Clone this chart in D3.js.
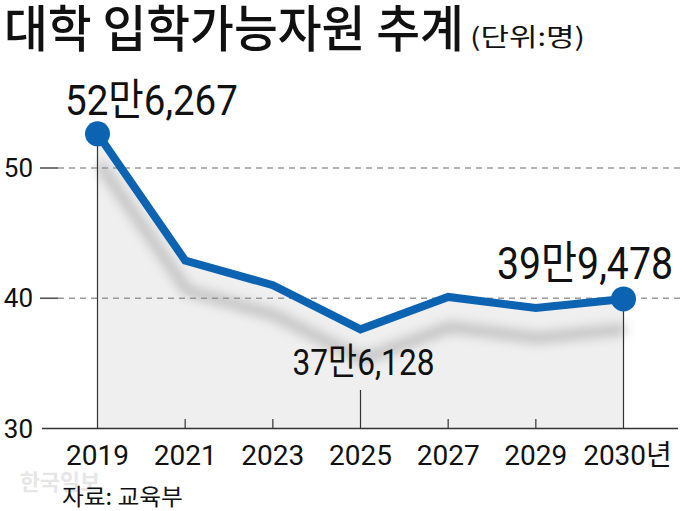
<!DOCTYPE html>
<html><head><meta charset="utf-8">
<script src="https://cdn.jsdelivr.net/npm/d3@7"></script>
<style>
html,body{margin:0;padding:0;background:#fff;}
svg{display:block;}
text{font-family:Roboto,"Noto Sans CJK KR",sans-serif;fill:#111;}
.kr{font-family:"Noto Sans CJK KR",sans-serif;}
</style></head>
<body>
<script>
const years = ["2019","2021","2023","2025","2027","2029","2030"];
const values = [52.6267, 42.9, 41.0, 37.6128, 40.1, 39.25, 39.9478];
const yTicks = [30, 40, 50];
const xTickLabels = ["2019","2021","2023","2025","2027","2029","2030년"];
const title = "대학 입학가능자원 추계";
const unit = "(단위:명)";
const source = "자료: 교육부";
const watermark = "한국일보";
const callouts = [
  {year:"2019", text:"52만6,267"},
  {year:"2025", text:"37만6,128"},
  {year:"2030", text:"39만9,478"}
];

const W = 680, H = 511;
const svg = d3.select("body").append("svg").attr("width", W).attr("height", H);

const x = d3.scalePoint().domain(years).range([97.5, 623.5]);
const y = d3.scaleLinear().domain([30, 50]).range([428.5, 168]);
const data = years.map((d,i)=>({year:d, v:values[i]}));

const defs = svg.append("defs");
defs.append("filter").attr("id","blur").attr("x","-20%").attr("y","-50%").attr("width","140%").attr("height","200%")
  .append("feGaussianBlur").attr("stdDeviation", 6);

// place text with left edge at x0 and given width by horizontal scaling
function fitText(sel, x0, yb, width){
  const w = sel.node().getComputedTextLength();
  const s = width / w;
  sel.attr("x",0).attr("y",0).attr("text-anchor","start")
     .attr("transform",`translate(${x0},${yb}) scale(${s},1)`);
  return sel;
}

// area
const area = d3.area().x(d=>x(d.year)).y0(y(30)).y1(d=>y(d.v));
svg.append("path").datum(data).attr("d", area).attr("fill", "#efefef");

// gridlines
yTicks.filter(t=>t>30).forEach(t=>{
  svg.append("line").attr("x1",58).attr("x2",680).attr("y1",y(t)).attr("y2",y(t))
    .attr("stroke","#9a9a9a").attr("stroke-width",1.3).attr("stroke-dasharray","6,5");
  svg.append("line").attr("x1",40).attr("x2",58).attr("y1",y(t)).attr("y2",y(t))
    .attr("stroke","#555").attr("stroke-width",1.6);
});
// y labels
yTicks.forEach(t=>{
  svg.append("text").attr("x",33).attr("y",y(t)+9).attr("text-anchor","end")
    .attr("font-size",26).text(t);
});

// shadow
const line = d3.line().x(d=>x(d.year)).y(d=>y(d.v)).curve(d3.curveLinear);
svg.append("path").datum(data).attr("d", line).attr("fill","none")
  .attr("stroke","#8a8a8a").attr("stroke-width",9).attr("opacity",0.55)
  .attr("transform","translate(2,30)").attr("filter","url(#blur)");

// vertical lines at ends and 2025
["2019","2030"].forEach(yr=>{
  const v = values[years.indexOf(yr)];
  svg.append("line").attr("x1",x(yr)).attr("x2",x(yr)).attr("y1",y(v)).attr("y2",y(30))
    .attr("stroke","#333").attr("stroke-width",1.2);
});
svg.append("line").attr("x1",x("2025")).attr("x2",x("2025")).attr("y1",390).attr("y2",y(30))
  .attr("stroke","#333").attr("stroke-width",1.2);
// small ticks
["2021","2023","2027","2029"].forEach(yr=>{
  svg.append("line").attr("x1",x(yr)).attr("x2",x(yr)).attr("y1",419).attr("y2",y(30))
    .attr("stroke","#333").attr("stroke-width",1.2);
});
// axis line
svg.append("line").attr("x1",42).attr("x2",678).attr("y1",y(30)).attr("y2",y(30))
  .attr("stroke","#333").attr("stroke-width",1.5);

// main line
svg.append("path").datum(data).attr("d", line).attr("fill","none")
  .attr("stroke","#0c63b2").attr("stroke-width",8).attr("stroke-linejoin","miter");
// markers
[data[0], data[data.length-1]].forEach(d=>{
  svg.append("circle").attr("cx",x(d.year)).attr("cy",y(d.v)).attr("r",12.5).attr("fill","#0c63b2");
});

// x labels
years.forEach((yr,i)=>{
  svg.append("text").attr("x",x(yr)+(i===years.length-1?4:0)).attr("y",465).attr("text-anchor","middle")
    .attr("font-size",28).text(xTickLabels[i]);
});

// callouts
const c0 = callouts[0], c1 = callouts[1], c2 = callouts[2];
fitText(svg.append("text").attr("font-size",43).text(c0.text), x(c0.year)-32.5, y(values[0])-19, 173);
fitText(svg.append("text").attr("font-size",37).text(c1.text), x(c1.year)-68, y(values[3])+45.5, 142);
fitText(svg.append("text").attr("font-size",45).text(c2.text), x(c2.year)-126.5, y(values[6])-20, 176);

// title
fitText(svg.append("text").attr("class","kr").attr("font-size",50).attr("font-weight",500).text(title), 4, 47, 460);
fitText(svg.append("text").attr("class","kr").attr("font-size",25).text(unit), 470, 46, 115);

// watermark & source
fitText(svg.append("text").attr("class","kr").attr("font-size",22).attr("font-weight",700)
  .style("fill","#e6e6e6").text(watermark), 20, 490, 80);
fitText(svg.append("text").attr("class","kr").attr("font-size",23).text(source), 62, 505, 121);
</script>
</body></html>
